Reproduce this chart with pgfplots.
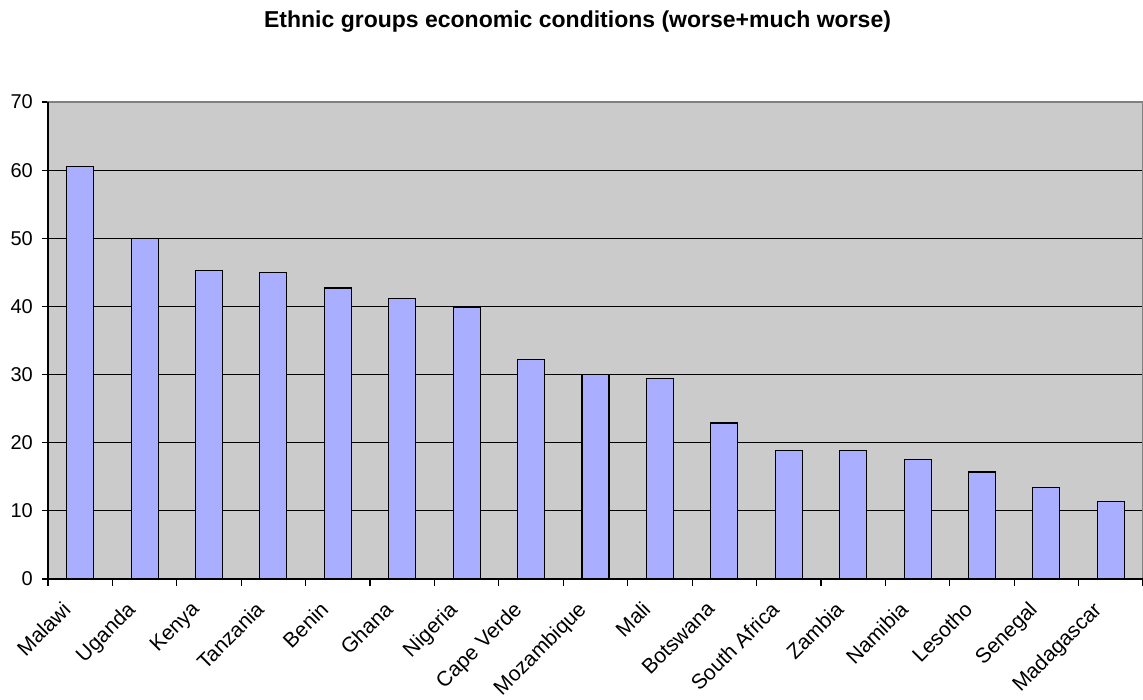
\documentclass[border=0pt]{standalone}
\usepackage{fontspec}
\setmainfont{Liberation Sans}
\usepackage{pgfplots}
\pgfplotsset{compat=1.18}
\usepackage{pgfplotstable}

\definecolor{plotbg}{RGB}{203,203,203}
\definecolor{barfill}{RGB}{170,174,255}
\definecolor{frame}{RGB}{128,128,128}

% share of respondents rating their ethnic group's economic conditions worse or much worse
\pgfplotstableread{
idx value
0  60.5
1  50.0
2  45.3
3  45.0
4  42.7
5  41.2
6  39.8
7  32.2
8  30.0
9  29.4
10 22.9
11 18.9
12 18.9
13 17.5
14 15.7
15 13.4
16 11.4
}\ethnicdata

\begin{document}
\begin{tikzpicture}[x=1pt,y=1pt]
\useasboundingbox (0,0) rectangle (1143,699);
\begin{axis}[
  at={(48pt,120pt)}, anchor=south west,
  scale only axis,
  width=1095pt, height=477pt,
  xmin=-0.5, xmax=16.5,
  ymin=0, ymax=70,
  ytick={0,10,...,70},
  xtick={0,...,16},
  xticklabels={Malawi,Uganda,Kenya,Tanzania,Benin,Ghana,Nigeria,Cape Verde,Mozambique,Mali,Botswana,South Africa,Zambia,Namibia,Lesotho,Senegal,Madagascar},
  minor xtick={-0.5,0.5,...,16.5},
  xtick pos=bottom, ytick pos=left,
  tick align=outside,
  major tick length=6pt,
  minor tick length=7pt,
  major x tick style={draw=none},
  minor x tick style={black, line width=1.2pt},
  ytick style={black, line width=1.2pt},
  ymajorgrids,
  major grid style={black, line width=1.2pt},
  axis background/.style={fill=plotbg},
  axis line style={frame, line width=1.2pt},
  /pgf/number format/assume math mode=true,
  yticklabel style={font=\fontsize{20}{24}\selectfont, inner sep=0pt, xshift=-9pt},
  xticklabel style={font=\fontsize{21}{25}\selectfont, xshift=-19pt, yshift=-15pt,
    rotate=45, anchor=north east, inner sep=0pt},
  title={Ethnic groups economic conditions (worse+much worse)},
  title style={at={(0.4836,1)}, anchor=base, yshift=68pt,
    font=\fontsize{23}{28}\selectfont\bfseries},
  ybar, bar width=27pt,
  clip=false,
]
\addplot[fill=barfill, draw=black, line width=1.1pt] table[x=idx, y=value] {\ethnicdata};
\draw[black, line width=1.4pt] (rel axis cs:0,1) -- (rel axis cs:0,0) -- (rel axis cs:1,0);
\end{axis}
\end{tikzpicture}
\end{document}
